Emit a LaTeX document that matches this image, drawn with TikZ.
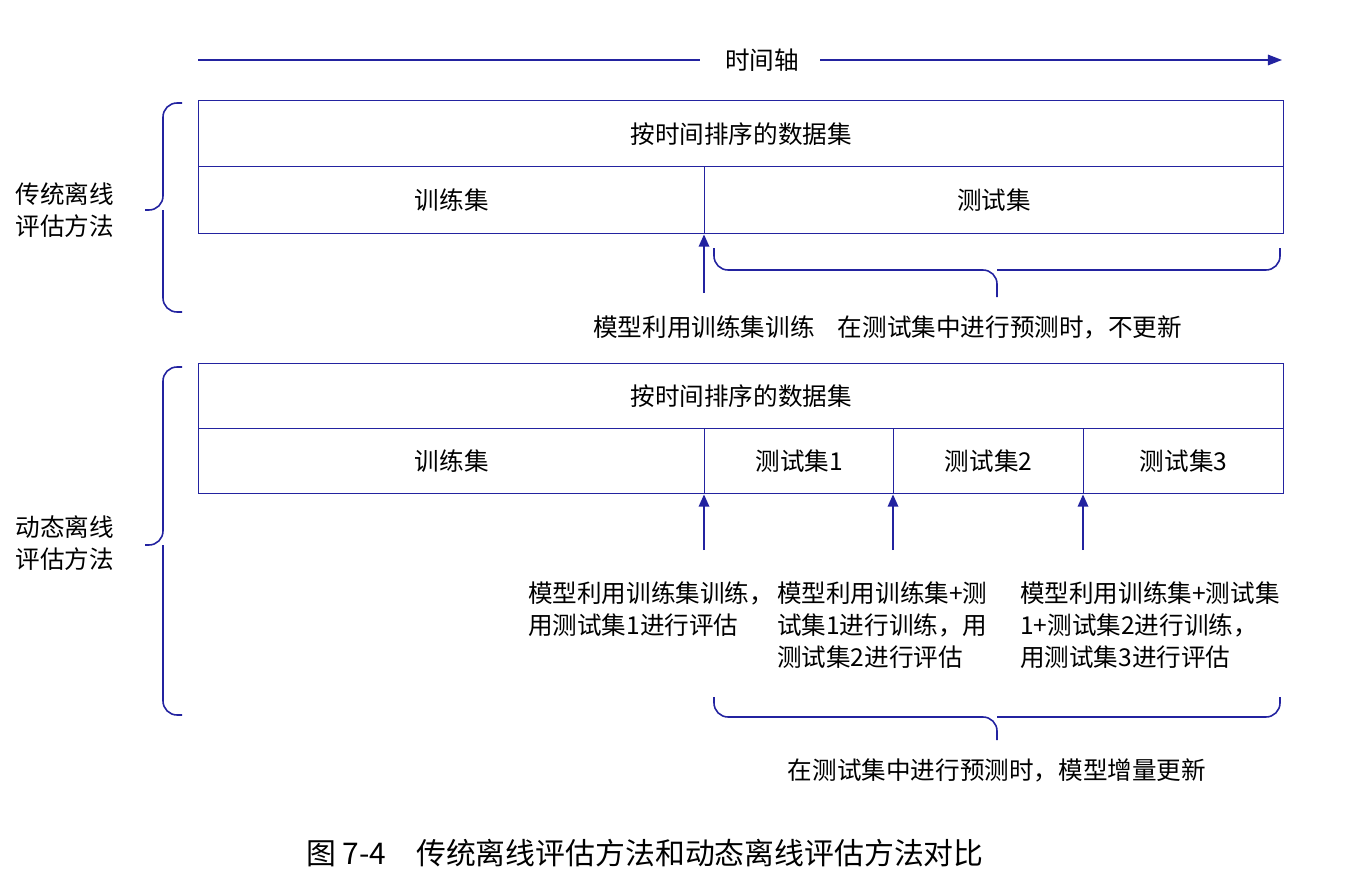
\documentclass[tikz,border=0pt]{standalone}
\usepackage{fontspec}
\setmainfont{Noto Sans CJK SC}
\usepackage{tikz}
\usetikzlibrary{arrows.meta}
\usetikzlibrary{positioning}
\definecolor{lineblue}{RGB}{35,35,160}

\begin{document}
\begin{tikzpicture}[x=0.02cm,y=-0.02cm,
    cell/.style={draw=lineblue, line width=0.8pt, inner sep=0pt, anchor=north west},
    txt/.style={font=\fontsize{14}{18}\selectfont, inner sep=1pt},
    note/.style={txt, align=left, anchor=north west},
    uparrow/.style={draw=lineblue, line width=0.9pt, -{Triangle[length=7pt,width=6pt]}},
    bracepath/.style={draw=lineblue, line width=0.9pt, rounded corners=8pt}
    ]
    \useasboundingbox (0,0) rectangle (1372,892);
    % time axis
    \node[txt] (axis) at (762,60) {时间轴};
    \coordinate (axisL) at (198,60);
    \coordinate (axisM) at (700,60);
    \coordinate (axisN) at (820,60);
    \coordinate (axisR) at (1282,60);
    \draw[lineblue, line width=0.8pt] (axisL) -- (axisM);
    \draw[lineblue, line width=0.8pt, -{Triangle[length=8pt,width=6pt]}] (axisN) -- (axisR);
    % traditional
    \node[cell, minimum width=1085*0.02cm, minimum height=66*0.02cm] (dataA) at (198,100) {};
    \node[txt] at (dataA.center) {按时间排序的数据集};
    \node[cell, minimum width=506*0.02cm, minimum height=67*0.02cm] (trainA) at (198,166) {};
    \node[txt] at (trainA.center) {训练集};
    \node[cell, minimum width=579*0.02cm, minimum height=67*0.02cm] (testA) at (704,166) {};
    \node[txt] at (testA.center) {测试集};
    \coordinate (arrA) at (704,293);
    \draw[uparrow] (arrA) -- (testA.south west);
    \node[txt] (lblA) at (704,327) {模型利用训练集训练};
    \node[txt] (lblB) at (1010,327) {在测试集中进行预测时，不更新};
    \draw[bracepath] (714,248) -- (714,270) -- (997,270) -- (997,297);
    \draw[bracepath] (997,270) -- (1280,270) -- (1280,248);
    \draw[bracepath] (182,103) -- (163,103) -- (163,210) -- (145,210);
    \draw[bracepath] (163,210) -- (163,312) -- (182,312);
    \node[txt, align=center] (methA) at (65,210) {传统离线\\评估方法};
    % dynamic
    \node[cell, minimum width=1085*0.02cm, minimum height=65*0.02cm] (dataB) at (198,363) {};
    \node[txt] at (dataB.center) {按时间排序的数据集};
    \node[cell, minimum width=506*0.02cm, minimum height=65*0.02cm] (trainB) at (198,428) {};
    \node[txt] at (trainB.center) {训练集};
    \node[cell, minimum width=189*0.02cm, minimum height=65*0.02cm] (test1) at (704,428) {};
    \node[txt] at (test1.center) {测试集1};
    \node[cell, minimum width=190*0.02cm, minimum height=65*0.02cm] (test2) at (893,428) {};
    \node[txt] at (test2.center) {测试集2};
    \node[cell, minimum width=200*0.02cm, minimum height=65*0.02cm] (test3) at (1083,428) {};
    \node[txt] at (test3.center) {测试集3};
    \foreach \t/\x in {test1/704,test2/893,test3/1083} {
        \coordinate (foot\t) at (\x,550);
        \draw[uparrow] (foot\t) -- (\t.south west);
    }
    \node[note] (note1) at (526,580) {模型利用训练集训练，\\用测试集1进行评估};
    \node[note] (note2) at (775,580) {模型利用训练集+测\\试集1进行训练，用\\测试集2进行评估};
    \node[note] (note3) at (1018,580) {模型利用训练集+测试集\\1+测试集2进行训练，\\用测试集3进行评估};
    \draw[bracepath] (714,697) -- (714,717) -- (997,717) -- (997,740);
    \draw[bracepath] (997,717) -- (1280,717) -- (1280,697);
    \node[txt] (lblC) at (997,770) {在测试集中进行预测时，模型增量更新};
    \draw[bracepath] (182,367) -- (163,367) -- (163,545) -- (145,545);
    \draw[bracepath] (163,545) -- (163,715) -- (182,715);
    \node[txt, align=center] (methB) at (65,543) {动态离线\\评估方法};
    % caption
    \node[font=\fontsize{17}{20}\selectfont] (cap) at (645,853) {图 7-4\quad 传统离线评估方法和动态离线评估方法对比};
\end{tikzpicture}
\end{document}
